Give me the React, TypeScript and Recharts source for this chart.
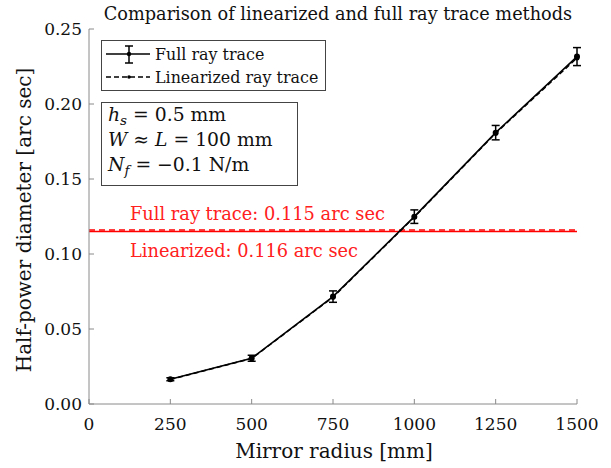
import React from 'react';
import { ComposedChart, Line, XAxis, YAxis, ReferenceLine, ErrorBar } from 'recharts';

const radii = [250, 500, 750, 1000, 1250, 1500];
const fullRayTrace = [0.0165, 0.0305, 0.0716, 0.1249, 0.1809, 0.2316];
const fullRayTraceError = [0.001, 0.002, 0.0038, 0.0045, 0.0048, 0.006];
const linearized = [0.0163, 0.0303, 0.0712, 0.1246, 0.1805, 0.2306];
const xTicks = [0, 250, 500, 750, 1000, 1250, 1500];
const yTicks = [0, 0.05, 0.1, 0.15, 0.2, 0.25];
const fullMean = 0.115;
const linMean = 0.116;

const data = radii.map((r, i) => ({ r, full: fullRayTrace[i], err: fullRayTraceError[i], lin: linearized[i] }));

const FONT = 'DejaVu Serif, serif';
const fs = (size: number, extra: any = {}) => ({ fontFamily: FONT, fontSize: size, ...extra });
const AXIS = '#8a8a8a';
const W = 611;
const H = 468;

const XTick = (p: any) => (
  <g>
    <line x1={p.x} x2={p.x} y1={p.y} y2={p.y - 5} stroke={AXIS} />
    <text x={p.x} y={p.y + 26} textAnchor="middle" style={fs(17)} fill="#111">{p.payload.value}</text>
  </g>
);
const XTickTop = (p: any) => (
  <line x1={p.x} x2={p.x} y1={p.y} y2={p.y + 5} stroke={AXIS} />
);
const YTick = (p: any) => (
  <g>
    <line x1={p.x} x2={p.x + 5} y1={p.y} y2={p.y} stroke={AXIS} />
    <text x={p.x - 7} y={p.y + 6} textAnchor="end" style={fs(17)} fill="#111">{Number(p.payload.value).toFixed(2)}</text>
  </g>
);
const YTickRight = (p: any) => (
  <line x1={p.x} x2={p.x - 5} y1={p.y} y2={p.y} stroke={AXIS} />
);

const redLabel = (text: string, dy: number) => (props: any) => {
  const vb = props.viewBox || {};
  return (
    <text x={(vb.x || 0) + 41} y={(vb.y || 0) + dy} style={fs(17.8)} fill="#ff2020">{text}</text>
  );
};

export default function App() {
  return (
    <div style={{ position: 'absolute', left: 0, top: 0, width: W, height: H, background: '#fff' }}>
      <ComposedChart width={W} height={H} data={data} margin={{ top: 29, right: 34, bottom: 0, left: 0 }}>
        <XAxis xAxisId="b" dataKey="r" type="number" domain={[0, 1500]} ticks={xTicks} height={64}
          axisLine={{ stroke: AXIS }} tickLine={false} tickSize={0} tickMargin={0} tick={<XTick />} interval={0} />
        <XAxis xAxisId="t" orientation="top" dataKey="r" type="number" domain={[0, 1500]} ticks={xTicks} height={0}
          axisLine={{ stroke: AXIS }} tickLine={false} tickSize={0} tickMargin={0} tick={<XTickTop />} interval={0} />
        <YAxis yAxisId="l" type="number" domain={[0, 0.25]} ticks={yTicks} width={89}
          axisLine={{ stroke: AXIS }} tickLine={false} tickSize={0} tickMargin={0} tick={<YTick />} interval={0} />
        <YAxis yAxisId="rt" orientation="right" type="number" domain={[0, 0.25]} ticks={yTicks} width={0}
          axisLine={{ stroke: AXIS }} tickLine={false} tickSize={0} tickMargin={0} tick={<YTickRight />} interval={0} />
        <ReferenceLine xAxisId="b" yAxisId="l" y={fullMean} stroke="#ff0000" strokeWidth={1.5}
          label={redLabel('Full ray trace: 0.115 arc sec', -12)} />
        <ReferenceLine xAxisId="b" yAxisId="l" y={linMean} stroke="#ff0000" strokeWidth={1.5} strokeDasharray="6 4"
          label={redLabel('Linearized: 0.116 arc sec', 27)} />
        <Line xAxisId="b" yAxisId="l" dataKey="full" stroke="#000" strokeWidth={1.6} isAnimationActive={false}
          dot={{ r: 2.2, fill: '#000', stroke: '#000' }}>
          <ErrorBar dataKey="err" width={4} stroke="#000" strokeWidth={1.5} direction="y" />
        </Line>
        <Line xAxisId="b" yAxisId="l" dataKey="lin" stroke="#000" strokeWidth={1.4} strokeDasharray="5 3" isAnimationActive={false}
          dot={{ r: 1.8, fill: '#000', stroke: '#000', strokeDasharray: '' }} />
      </ComposedChart>
      <svg width={W} height={H} style={{ position: 'absolute', left: 0, top: 0, pointerEvents: 'none' }}>
        <text x={338} y={20} textAnchor="middle" style={fs(17.7)} fill="#111">Comparison of linearized and full ray trace methods</text>
        <text x={0} y={0} transform="translate(31,220) rotate(-90)" textAnchor="middle" style={fs(20)} fill="#111">Half-power diameter [arc sec]</text>
        <text x={334} y={458} textAnchor="middle" style={fs(20)} fill="#111">Mirror radius [mm]</text>
        <rect x={101.5} y={40.5} width={224} height={50} fill="#fff" stroke="#444" />
        <line x1={106} x2={150} y1={54} y2={54} stroke="#000" strokeWidth={1.6} />
        <line x1={129} x2={129} y1={46} y2={63} stroke="#000" strokeWidth={1.5} />
        <line x1={125} x2={133} y1={46} y2={46} stroke="#000" strokeWidth={1.5} />
        <line x1={125} x2={133} y1={63} y2={63} stroke="#000" strokeWidth={1.5} />
        <circle cx={129} cy={54} r={2.2} fill="#000" />
        <text x={155} y={60} style={fs(15.9)} fill="#111">Full ray trace</text>
        <line x1={106} x2={150} y1={77} y2={77} stroke="#000" strokeWidth={1.4} strokeDasharray="5 3" />
        <circle cx={129} cy={77} r={1.8} fill="#000" />
        <text x={155} y={83} style={fs(15.9)} fill="#111">Linearized ray trace</text>
        <rect x={101.5} y={102.5} width={196} height={83} fill="#fff" stroke="#444" />
        <text x={108} y={121} style={fs(18.8)} fill="#111">
          <tspan fontStyle="italic">h</tspan><tspan fontStyle="italic" fontSize={13.5} dy={4}>s</tspan><tspan dy={-4}> = 0.5 mm</tspan>
        </text>
        <text x={108} y={146} style={fs(18.8)} fill="#111">
          <tspan fontStyle="italic">W</tspan><tspan> ≈ </tspan><tspan fontStyle="italic">L</tspan><tspan> = 100 mm</tspan>
        </text>
        <text x={108} y={171} style={fs(18.8)} fill="#111">
          <tspan fontStyle="italic">N</tspan><tspan fontStyle="italic" fontSize={13.5} dy={4}>f</tspan><tspan dy={-4}> = −0.1 N/m</tspan>
        </text>
      </svg>
    </div>
  );
}
